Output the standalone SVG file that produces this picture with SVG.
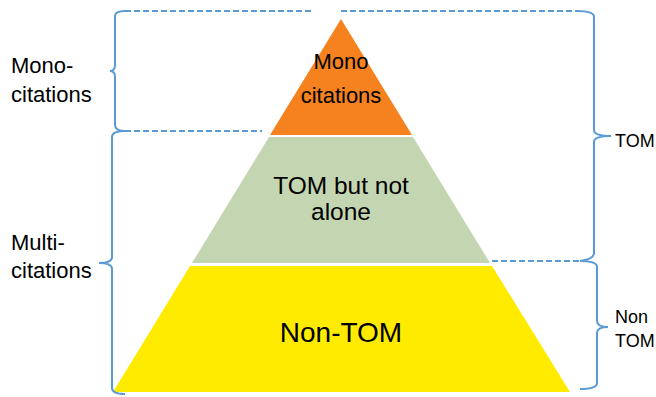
<svg xmlns="http://www.w3.org/2000/svg" width="656" height="397" viewBox="0 0 656 397">
<style>
.t{font-family:"Liberation Sans",Arial,sans-serif;fill:#000}
.c{text-anchor:middle}
.br{fill:none;stroke:#5B9BD5;stroke-width:2}
.ds{fill:none;stroke:#5B9BD5;stroke-width:2;stroke-dasharray:6 3}
</style>
<rect width="656" height="397" fill="#fff"/>
<g id="level-mono">
<polygon points="341,19 412,135 270,135" fill="#F5821F"/>
<text class="t c" x="341" y="69" font-size="22">Mono</text>
<text class="t c" x="341" y="103" font-size="22">citations</text>
</g>
<g id="level-tom">
<polygon points="269,137 413,137 490,263 192,263" fill="#C4D6B1"/>
<text class="t c" x="341" y="194" font-size="24.5">TOM but not</text>
<text class="t c" x="341" y="220" font-size="24.5">alone</text>
</g>
<g id="level-nontom">
<polygon points="190,266 492,266 570,392 113,392" fill="#FFEB00"/>
<text class="t c" x="341" y="342" font-size="28">Non-TOM</text>
</g>
<g id="connectors">
<path class="ds" d="M125,11 L312,11"/>
<path class="ds" d="M341,11 L577,11"/>
<path class="ds" d="M125,131 L262,131"/>
<path class="ds" d="M492,261 L580,261"/>
<path class="br" d="M125,11 Q115,11 115,16 L115,65 Q115,71 110,71 Q115,71 115,77 L115,125 Q115,131 125,131"/>
<path class="br" d="M125,131 Q112,131 112,137 L112,257 Q112,263 99,263 Q112,263 112,269 L112,388 Q112,394 125,394"/>
<path class="br" d="M577,11 Q594,11 594,17 L594,130 Q594,136 611,136 Q594,136 594,142 L594,253 Q594,259 580,261"/>
<path class="br" d="M580,261 Q597,261 597,267 L597,321 Q597,327 608,327 Q597,327 597,333 L597,383 Q597,389 580,389"/>
</g>
<g id="label-mono-citations">
<text class="t" x="11" y="73" font-size="22">Mono-</text>
<text class="t" x="11" y="102" font-size="22">citations</text>
</g>
<g id="label-multi-citations">
<text class="t" x="11" y="250" font-size="22">Multi-</text>
<text class="t" x="11" y="278" font-size="22">citations</text>
</g>
<g id="label-tom">
<text class="t" x="615" y="147" font-size="18">TOM</text>
</g>
<g id="label-non-tom">
<text class="t" x="615" y="323" font-size="18">Non</text>
<text class="t" x="615" y="347" font-size="18">TOM</text>
</g>
</svg>
